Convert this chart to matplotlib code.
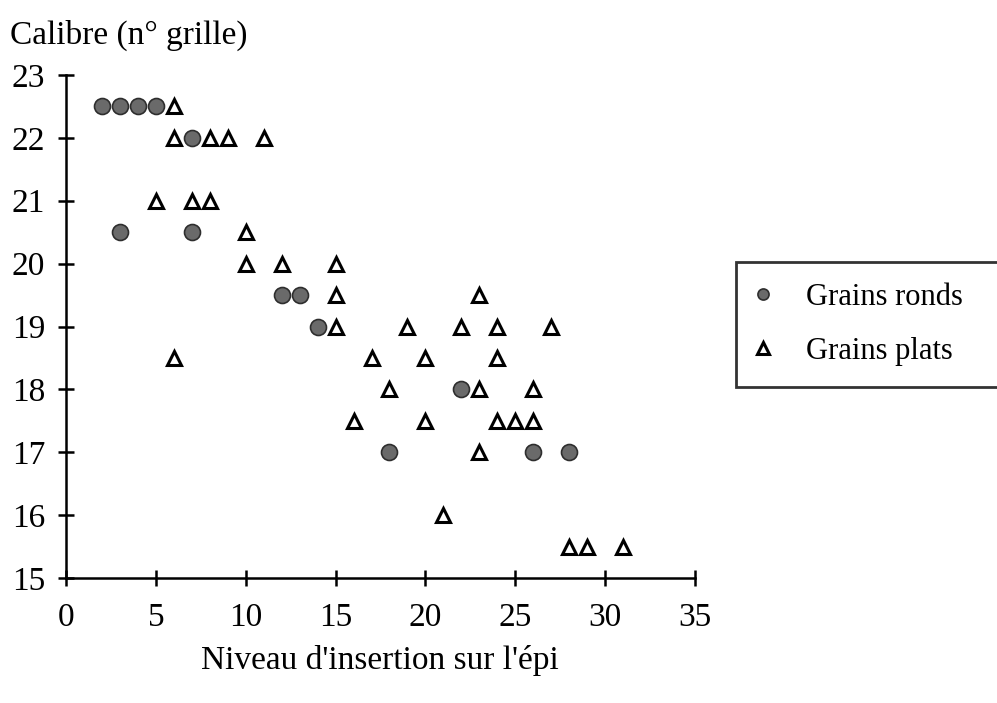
import matplotlib.pyplot as plt
import numpy as np

plt.rcParams['font.family'] = ['Liberation Serif', 'DejaVu Serif']

# grains ronds
ronds_x = [2, 3, 4, 5, 7, 3, 7, 12, 13, 14, 22, 18, 26, 28]
ronds_y = [22.5, 22.5, 22.5, 22.5, 22, 20.5, 20.5, 19.5, 19.5, 19, 18, 17, 17, 17]

# grains plats
plats_x = [6, 6, 8, 9, 11, 5, 7, 8, 10, 10, 12, 6,
           15, 15, 23, 15, 19, 22, 24, 27, 17, 20, 24,
           18, 23, 26, 16, 20, 24, 25, 26, 23, 21, 28, 29, 31]
plats_y = [22.5, 22, 22, 22, 22, 21, 21, 21, 20.5, 20, 20, 18.5,
           20, 19.5, 19.5, 19, 19, 19, 19, 19, 18.5, 18.5, 18.5,
           18, 18, 18, 17.5, 17.5, 17.5, 17.5, 17.5, 17, 16, 15.5, 15.5, 15.5]

xticks = np.arange(0, 36, 5)
yticks = np.arange(15, 24, 1)

fig = plt.figure(figsize=(9.97, 7.03), dpi=100)
ax = fig.add_axes([66/997, 1-578/703, (695-66)/997, (578-75)/703])

ax.plot(ronds_x, ronds_y, 'o', ms=11.5, mfc='#6a6a6a', mec='#2e2e2e', mew=1.2,
        label='Grains ronds', clip_on=False)
ax.plot(plats_x, plats_y, '^', ms=10.5, mfc='white', mec='black', mew=2.2,
        label='Grains plats', clip_on=False)

ax.set_xlim(0, 35)
ax.set_ylim(15, 23)
ax.set_xticks(xticks)
ax.set_yticks(yticks)
for s in ['top', 'right']:
    ax.spines[s].set_visible(False)
for s in ['left', 'bottom']:
    ax.spines[s].set_linewidth(1.8)
ax.tick_params(direction='inout', length=12, width=1.8, labelsize=24, color='black')
ax.tick_params(axis='x', pad=12)
ax.tick_params(axis='y', pad=9)

fig.text(10/997, 1-35/703, 'Calibre (n° grille)', fontsize=24, va='center', ha='left')
fig.text(380/997, 1-660/703, "Niveau d'insertion sur l'épi", fontsize=24, va='center', ha='center')

leg = ax.legend(loc='upper left', bbox_to_anchor=(736/997, 0.40, 0.3, 1-262/703-0.40),
                bbox_transform=fig.transFigure, mode='expand',
                fontsize=22, frameon=True, fancybox=False, edgecolor='black',
                borderpad=0.69, handletextpad=1.2, labelspacing=0.81, handlelength=0.4,
                borderaxespad=0)
leg.get_frame().set_linewidth(2)
for h in leg.legend_handles:
    h.set_markersize(8)

fig.savefig('out.png', dpi=100)
